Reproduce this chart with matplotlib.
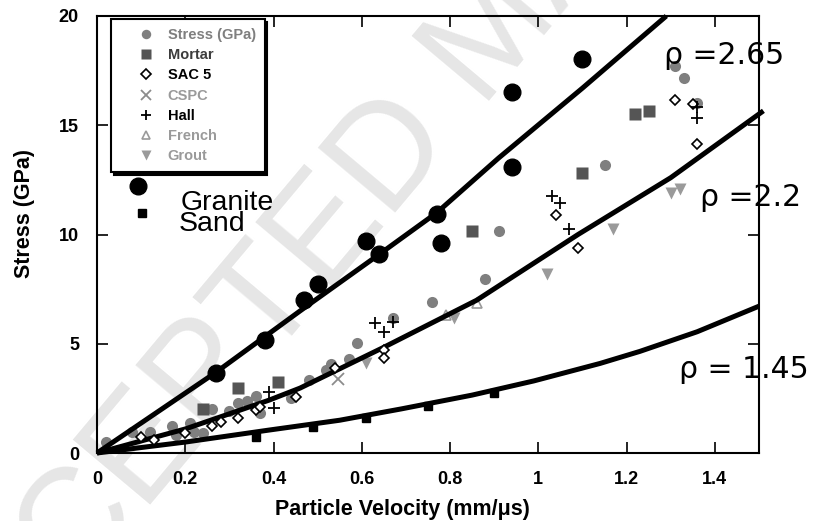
import matplotlib.pyplot as plt
from matplotlib.ticker import FixedLocator, FuncFormatter

plt.rcParams['font.family'] = ['Liberation Sans', 'DejaVu Sans']

# data (u in mm/us, P in GPa)
stress_u = [0.02, 0.08, 0.12, 0.17, 0.18, 0.21, 0.22, 0.24, 0.26, 0.30, 0.32, 0.34, 0.36, 0.37,
            0.44, 0.48, 0.52, 0.53, 0.57, 0.59, 0.67, 0.76, 0.88, 0.91, 1.15, 1.31, 1.33, 1.36]
stress_p = [0.5, 0.96, 0.96, 1.23, 0.82, 1.37, 0.96, 0.91, 2.0, 1.92, 2.28, 2.37, 2.6, 1.83,
            2.5, 3.33, 3.79, 4.06, 4.29, 5.02, 6.2, 6.9, 7.95, 10.18, 13.2, 17.7, 17.17, 16.03]
mortar_u = [0.24, 0.32, 0.41, 0.85, 1.10, 1.22, 1.25]
mortar_p = [2.0, 2.97, 3.24, 10.18, 12.8, 15.5, 15.66]
sac5_u = [0.10, 0.13, 0.20, 0.26, 0.28, 0.32, 0.36, 0.37, 0.45, 0.54, 0.65, 0.65,
          1.04, 1.09, 1.31, 1.35, 1.36]
sac5_p = [0.73, 0.59, 0.91, 1.23, 1.42, 1.6, 1.96, 2.1, 2.56, 3.88, 4.7, 4.34,
          10.9, 9.36, 16.16, 15.98, 14.16]
cspc_u = [0.545]
cspc_p = [3.38]
hall_u = [0.39, 0.40, 0.63, 0.65, 0.67, 1.03, 1.05, 1.07, 1.36, 1.36]
hall_p = [2.79, 2.05, 5.94, 5.52, 5.98, 11.74, 11.42, 10.23, 15.84, 15.34]
french_u = [0.79, 0.86]
french_p = [6.3, 6.85]
grout_u = [0.61, 0.81, 1.02, 1.17, 1.30, 1.32]
grout_p = [4.11, 6.16, 8.2, 10.23, 11.9, 12.1]
granite_u = [0.27, 0.38, 0.47, 0.50, 0.61, 0.64, 0.77, 0.78, 0.94, 0.94, 1.10]
granite_p = [3.65, 5.16, 6.99, 7.72, 9.68, 9.13, 10.96, 9.59, 13.1, 16.53, 18.04]
sand_u = [0.36, 0.49, 0.61, 0.75, 0.90]
sand_p = [0.73, 1.19, 1.6, 2.15, 2.74]

# fitted curves, points
c265_u = [0, 0.27, 0.46, 0.64, 0.77, 0.91, 1.10, 1.29]
c265_p = [0, 3.7, 6.5, 9.1, 11.0, 13.5, 16.7, 20.0]
c22_u = [0, 0.20, 0.39, 0.46, 0.65, 0.86, 1.09, 1.30, 1.51]
c22_p = [0, 1.1, 2.42, 2.97, 4.84, 6.99, 10.0, 12.6, 15.66]
c145_u = [0, 0.20, 0.39, 0.55, 0.69, 0.85, 0.99, 1.14, 1.23, 1.36, 1.50]
c145_p = [0, 0.5, 1.05, 1.5, 2.02, 2.65, 3.3, 4.1, 4.65, 5.55, 6.72]

xticks = [0, 0.2, 0.4, 0.6, 0.8, 1.0, 1.2, 1.4]
yticks = [0, 5, 10, 15, 20]

fig = plt.figure(figsize=(8.22, 5.21), dpi=100)
ax = fig.add_axes([97/822, 1-453/521, 662/822, 437/521])
ax.patch.set_visible(False)

# watermark behind everything
fig.text(495/822, 1-35/521, "ACCEPTED MANUSCRIPT", fontsize=105, color='#e6e6e6',
         rotation=50, rotation_mode='anchor', ha='center', va='center', zorder=-5)

# grey series (under the fit lines)
ax.plot(stress_u, stress_p, 'o', color='#7f7f7f', ms=8, mec='none', label='Stress (GPa)', zorder=2)
ax.plot(mortar_u, mortar_p, 's', color='#555555', ms=8, mec='none', label='Mortar', zorder=2)
ax.plot(sac5_u, sac5_p, 'D', mfc='white', mec='black', ms=5.5, mew=1.2, label='SAC 5', zorder=4)
ax.plot(cspc_u, cspc_p, 'x', color='#8c8c8c', ms=8, mew=1.3, label='CSPC', zorder=2)
ax.plot(hall_u, hall_p, '+', color='black', ms=8, mew=1.3, label='Hall', zorder=4)
ax.plot(french_u, french_p, '^', mfc='white', mec='#9a9a9a', ms=7, mew=1.2, label='French', zorder=2)
ax.plot(grout_u, grout_p, 'v', color='#9a9a9a', ms=8, mec='none', label='Grout', zorder=2)

for cu, cp in [(c265_u, c265_p), (c22_u, c22_p), (c145_u, c145_p)]:
    ax.plot(cu, cp, '-', color='black', lw=3.6, solid_capstyle='butt', zorder=3, clip_on=False)

ax.plot(granite_u, granite_p, 'o', color='black', ms=12, zorder=5)
ax.plot(sand_u, sand_p, 's', color='black', ms=5.5, zorder=5)

ax.set_xlim(0, 1.5)
ax.set_ylim(0, 20)
ax.xaxis.set_major_locator(FixedLocator(xticks))
ax.yaxis.set_major_locator(FixedLocator(yticks))
ax.xaxis.set_major_formatter(FuncFormatter(lambda v, p: '%g' % v))
ax.tick_params(direction='in', length=8, width=1.2, top=True, right=True,
               labelsize=13, pad=13)
for lab in ax.get_xticklabels() + ax.get_yticklabels():
    lab.set_fontweight('bold')
for sp in ax.spines.values():
    sp.set_linewidth(1.5)

ax.set_xlabel('Particle Velocity (mm/μs)', fontsize=15.5, fontweight='bold')
ax.set_ylabel('Stress (GPa)', fontsize=15.5, fontweight='bold')
ax.xaxis.set_label_coords(0.461, -0.105)
ax.yaxis.set_label_coords(-0.094, 0.549)

leg = ax.legend(loc='upper left', bbox_to_anchor=(0.021, 0.992), borderaxespad=0,
                prop={'weight': 'bold', 'size': 10.5}, frameon=True,
                fancybox=False, shadow={'color': 'black', 'alpha': 1},
                markerscale=0.85, handlelength=3.6, handletextpad=-0.3,
                labelspacing=0.42, borderpad=0.6)
leg.get_frame().set_edgecolor('black')
leg.get_frame().set_linewidth(1.5)
text_cols = ['#7f7f7f', '#3c3c3c', 'black', '#9a9a9a', 'black', '#9a9a9a', '#9a9a9a']
for t, c in zip(leg.get_texts(), text_cols):
    t.set_color(c)

# Granite / Sand key below the legend box
ax.plot([0.062], [0.612], 'o', color='black', ms=12, transform=ax.transAxes, clip_on=False)
ax.plot([0.068], [0.550], 's', color='black', ms=5.5, transform=ax.transAxes, clip_on=False)
ax.text(0.126, 0.571, 'Granite', fontsize=20.5, transform=ax.transAxes, va='center')
ax.text(0.124, 0.523, 'Sand', fontsize=20.5, transform=ax.transAxes, va='center')

rho_font = ['DejaVu Sans']
ax.text(1.284, 18.2, 'ρ =2.65', fontsize=21.5, va='center', ha='left', family=rho_font)
ax.text(1.367, 11.7, 'ρ =2.2', fontsize=21.5, va='center', ha='left', family=rho_font)
ax.text(1.318, 3.8, 'ρ = 1.45', fontsize=21.5, va='center', ha='left', family=rho_font)

fig.savefig('out.png', dpi=100)
